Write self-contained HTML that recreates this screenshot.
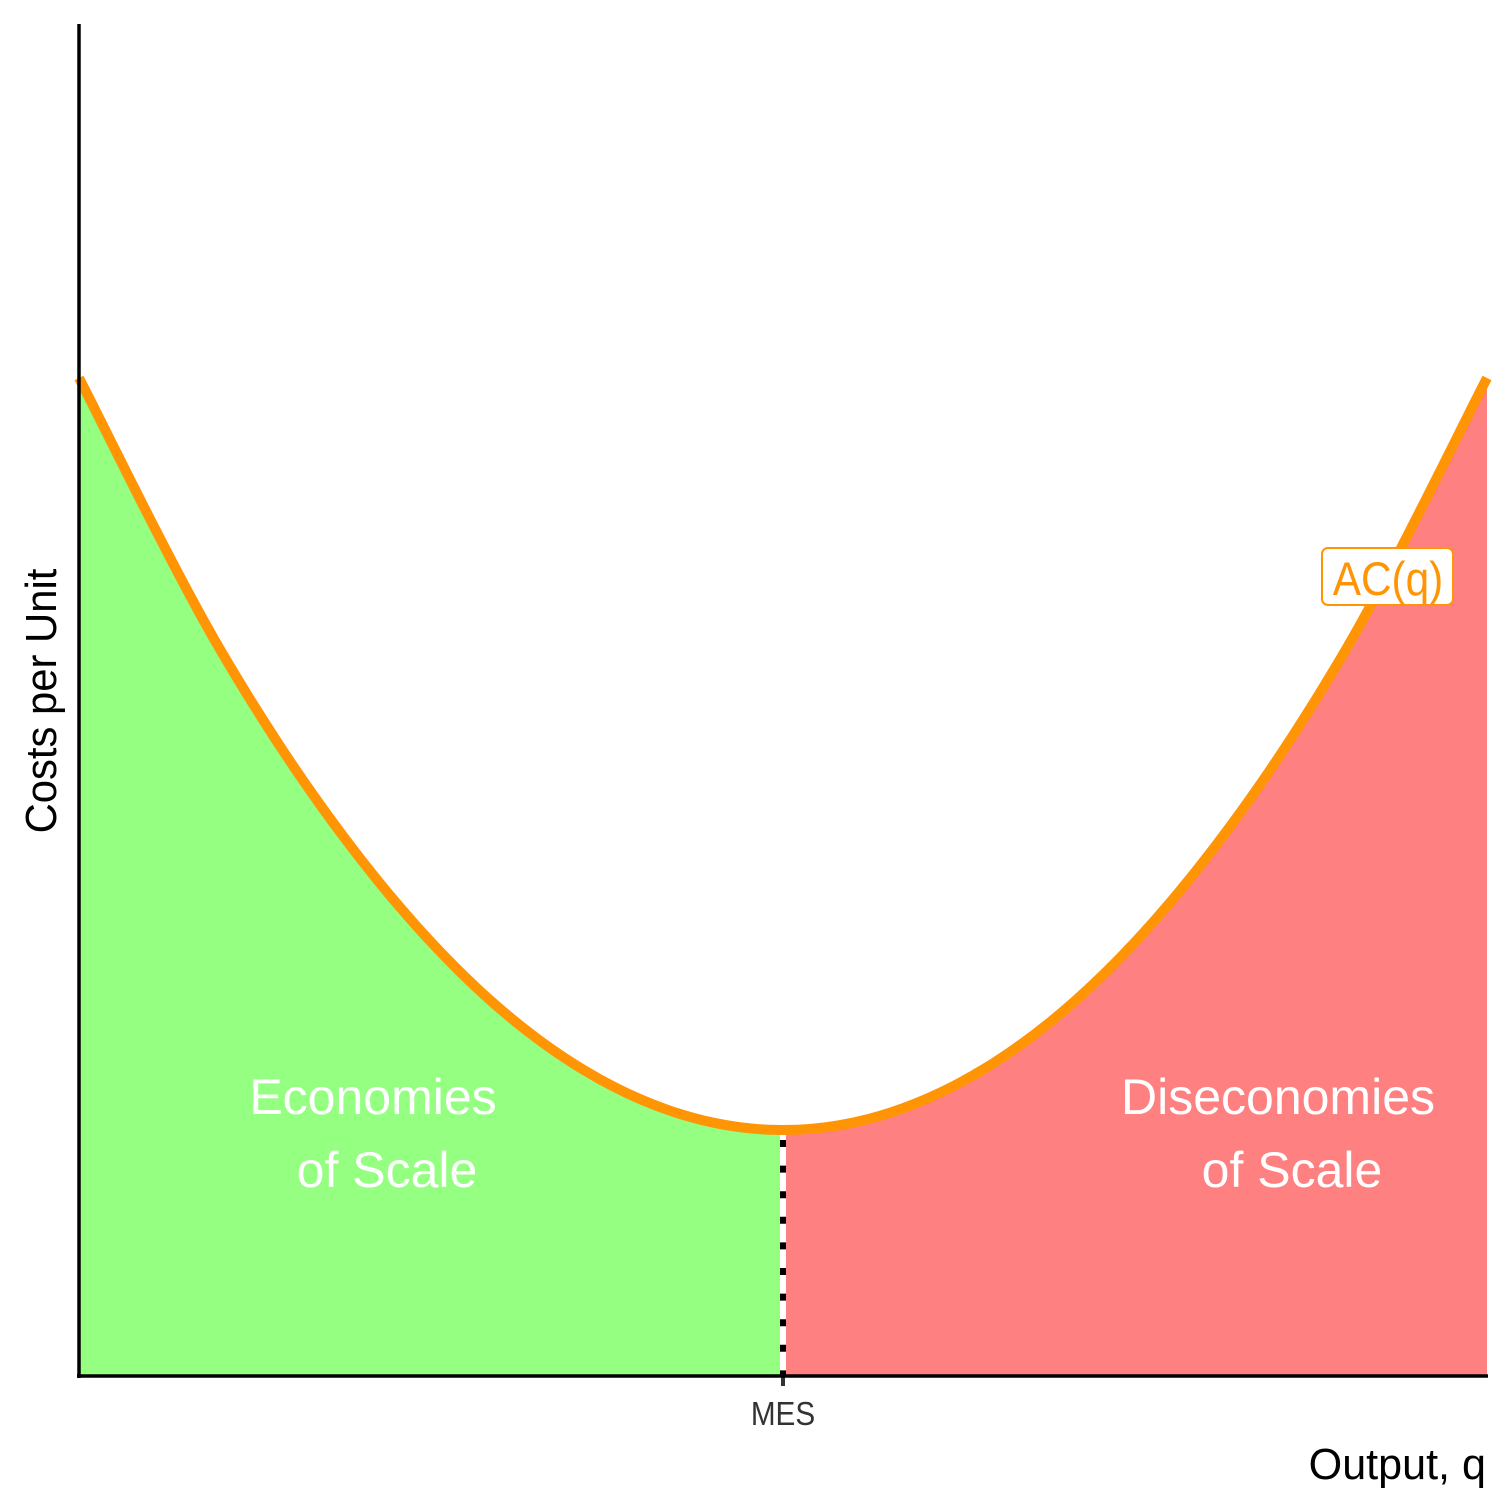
<!DOCTYPE html>
<html><head><meta charset="utf-8"><style>
html,body{margin:0;padding:0;background:#fff;}
svg{display:block;}
</style></head><body>
<svg id="chart" width="1512" height="1512" xmlns="http://www.w3.org/2000/svg">
<g id="fills"></g>
<g id="lines"></g>
<line x1="79" y1="24" x2="79" y2="1378" stroke="#000" stroke-width="3.5"/>
<line x1="77" y1="1376" x2="1488" y2="1376" stroke="#000" stroke-width="3.5"/>
<text font-family="Liberation Sans, sans-serif" font-size="50" fill="#fff" text-anchor="middle"><tspan x="373" y="1114">Economies</tspan><tspan x="387" y="1187">of Scale</tspan></text>
<text font-family="Liberation Sans, sans-serif" font-size="50" fill="#fff" text-anchor="middle"><tspan x="1278" y="1114">Diseconomies</tspan><tspan x="1292" y="1187">of Scale</tspan></text>
<text transform="translate(56,701) rotate(-90) scale(0.95,1)" font-family="Liberation Sans, sans-serif" font-size="44" fill="#000" text-anchor="middle">Costs per Unit</text>
<text transform="translate(1486,1479) scale(0.98,1)" font-family="Liberation Sans, sans-serif" font-size="44" fill="#000" text-anchor="end">Output, q</text>
<text id="mes" transform="translate(783,1425) scale(0.9,1)" font-family="Liberation Sans, sans-serif" font-size="33" fill="#333" text-anchor="middle">MES</text>
<g>
<rect x="1322" y="548" width="131" height="57" rx="6" fill="#fff" stroke="#FF9405" stroke-width="2"/>
<text transform="translate(1388,595) scale(0.9,1)" font-family="Liberation Sans, sans-serif" font-size="47" fill="#FF9405" text-anchor="middle">AC(q)</text>
</g>
</svg>
<script>
const qValues = [0,1,2,3,4,5,6,7,8,9,10];
const acValues = [9.98,7.27,5.17,3.66,2.76,2.46,2.76,3.66,5.17,7.27,9.98];
const mesQ = [5];
const NS='http://www.w3.org/2000/svg';
const xs = q => 79 + q*140.8;
const ys = v => 1376 - v*100;
function curvePts(i0,i1){
  const pts=[];
  for(let i=i0;i<i1;i++){
    const p0=i>0?i-1:i, p3=i+2<qValues.length?i+2:i+1;
    for(let t=0;t<1;t+=0.05){
      const t2=t*t,t3=t2*t;
      const f=(a,b,c,d)=>0.5*(2*b+(-a+c)*t+(2*a-5*b+4*c-d)*t2+(-a+3*b-3*c+d)*t3);
      pts.push([xs(f(qValues[p0],qValues[i],qValues[i+1],qValues[p3])),ys(f(acValues[p0],acValues[i],acValues[i+1],acValues[p3]))]);
    }
  }
  pts.push([xs(qValues[i1]),ys(acValues[i1])]);
  return pts;
}
const fills=document.getElementById('fills'), lines=document.getElementById('lines');
const mi=qValues.indexOf(mesQ[0]);
function area(i0,i1,col,name,dx0,dx1){
  const p=curvePts(i0,i1);
  p[0][0]+=dx0; p[p.length-1][0]+=dx1;
  const d='M'+p[0][0]+','+ys(0)+' L'+p.map(a=>a.join(',')).join(' L')+' L'+p[p.length-1][0]+','+ys(0)+'Z';
  const el=document.createElementNS(NS,'path');
  el.setAttribute('d',d);el.setAttribute('fill',col);
  
  
  fills.appendChild(el);
}
area(0,mi,'#95FF82','economies-area',0,-3);
area(mi,qValues.length-1,'#FF8080','diseconomies-area',3,0);
const mx=xs(mesQ[0]);
const w=document.createElementNS(NS,'line');
w.setAttribute('x1',mx);w.setAttribute('x2',mx);w.setAttribute('y1',ys(acValues[mi]));w.setAttribute('y2',ys(0));
w.setAttribute('stroke','#fff');w.setAttribute('stroke-width','6');


lines.appendChild(w);
const dl=document.createElementNS(NS,'line');
dl.setAttribute('x1',mx);dl.setAttribute('x2',mx);dl.setAttribute('y1',ys(acValues[mi])+10);dl.setAttribute('y2',ys(0)+10);
dl.setAttribute('stroke','#000');dl.setAttribute('stroke-width','6');dl.setAttribute('stroke-dasharray','7 18.6');


lines.appendChild(dl);
const tk=document.createElementNS(NS,'line');
tk.setAttribute('x1',mx);tk.setAttribute('x2',mx);tk.setAttribute('y1',ys(0));tk.setAttribute('y2',ys(0)+10);
tk.setAttribute('stroke','#333');tk.setAttribute('stroke-width','4');


lines.appendChild(tk);
const cp=curvePts(0,qValues.length-1);
const c=document.createElementNS(NS,'path');
c.setAttribute('d','M'+cp.map(a=>a.join(',')).join(' L'));
c.setAttribute('fill','none');c.setAttribute('stroke','#FF9405');c.setAttribute('stroke-width','10');


lines.appendChild(c);
</script>
</body></html>
